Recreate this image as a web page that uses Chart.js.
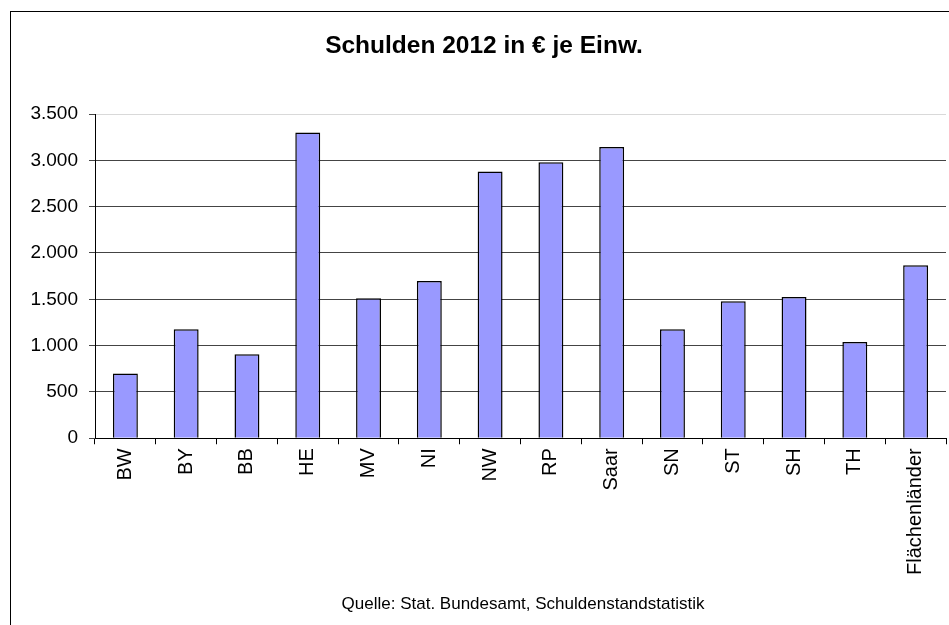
<!DOCTYPE html>
<html>
<head>
<meta charset="utf-8">
<script src="https://cdn.jsdelivr.net/npm/chart.js@4.4.1/dist/chart.umd.min.js"></script>
<style>
  html, body { margin: 0; padding: 0; background: #fff; }
  #wrap { position: relative; width: 949px; height: 625px; }
  #rahmen {
    position: absolute; left: 10px; top: 11px; right: 0; bottom: 0;
    border-left: 1px solid #000; border-top: 1px solid #000;
    pointer-events: none;
  }
</style>
</head>
<body>
<div id="wrap">
  <canvas id="grafico" width="949" height="625"></canvas>
  <div id="rahmen"></div>
</div>
<script>
const laender = ["BW", "BY", "BB", "HE", "MV", "NI", "NW", "RP", "Saar", "SN", "ST", "SH", "TH", "Flächenländer"];
const schulden = [700, 1176, 906, 3299, 1511, 1698, 2878, 2978, 3144, 1176, 1478, 1525, 1040, 1867];
const yTicks = [0, 500, 1000, 1500, 2000, 2500, 3000, 3500];

const titel = "Schulden 2012 in € je Einw.";
const quelle = "Quelle: Stat. Bundesamt, Schuldenstandstatistik";

const schrift = "'Liberation Sans', Arial, sans-serif";

// Titel und Quelle selbst zeichnen (stehen im Original nicht mittig)
const texte = {
  id: "texte",
  afterDraw(chart) {
    const ctx = chart.ctx;
    ctx.save();
    ctx.fillStyle = "#000";
    ctx.textAlign = "center";
    ctx.textBaseline = "middle";
    ctx.font = "bold 24.5px " + schrift;
    ctx.fillText(titel, 484, 46);
    ctx.font = "17px " + schrift;
    ctx.fillText(quelle, 523, 604);
    ctx.restore();
  }
};

new Chart(document.getElementById("grafico"), {
  type: "bar",
  data: {
    labels: laender,
    datasets: [{
      data: schulden,
      backgroundColor: "#9999ff",
      borderColor: "#000",
      borderWidth: 1.5,
      categoryPercentage: 1,
      barPercentage: 0.41
    }]
  },
  options: {
    responsive: false,
    animation: false,
    devicePixelRatio: 1,
    layout: { padding: { left: 0, right: 3, top: 114, bottom: 46 } },
    plugins: {
      legend: { display: false },
      tooltip: { enabled: false },
      title: { display: false },
      subtitle: { display: false }
    },
    scales: {
      x: {
        grid: {
          drawOnChartArea: false,
          drawTicks: true,
          tickLength: 6,
          color: "#000",
          offset: true
        },
        border: { color: "#000", width: 1 },
        ticks: {
          color: "#000",
          font: { family: schrift, size: 20 },
          minRotation: 90,
          maxRotation: 90,
          autoSkip: false,
          padding: 4
        }
      },
      y: {
        min: 0,
        max: 3500,
        afterFit: s => { s.width = 95; },
        afterBuildTicks: s => { s.ticks = yTicks.map(v => ({ value: v })); },
        grid: {
          color: c => (c.tick && c.tick.value === 3500) ? "#d9d9d9" : "#444",
          tickColor: "#444",
          tickLength: 6,
          lineWidth: 1
        },
        border: { color: "#000", width: 1 },
        ticks: {
          color: "#000",
          font: { family: schrift, size: 19 },
          padding: 11,
          callback: v => v.toLocaleString("de-DE")
        }
      }
    }
  },
  plugins: [texte]
});
</script>
</body>
</html>
